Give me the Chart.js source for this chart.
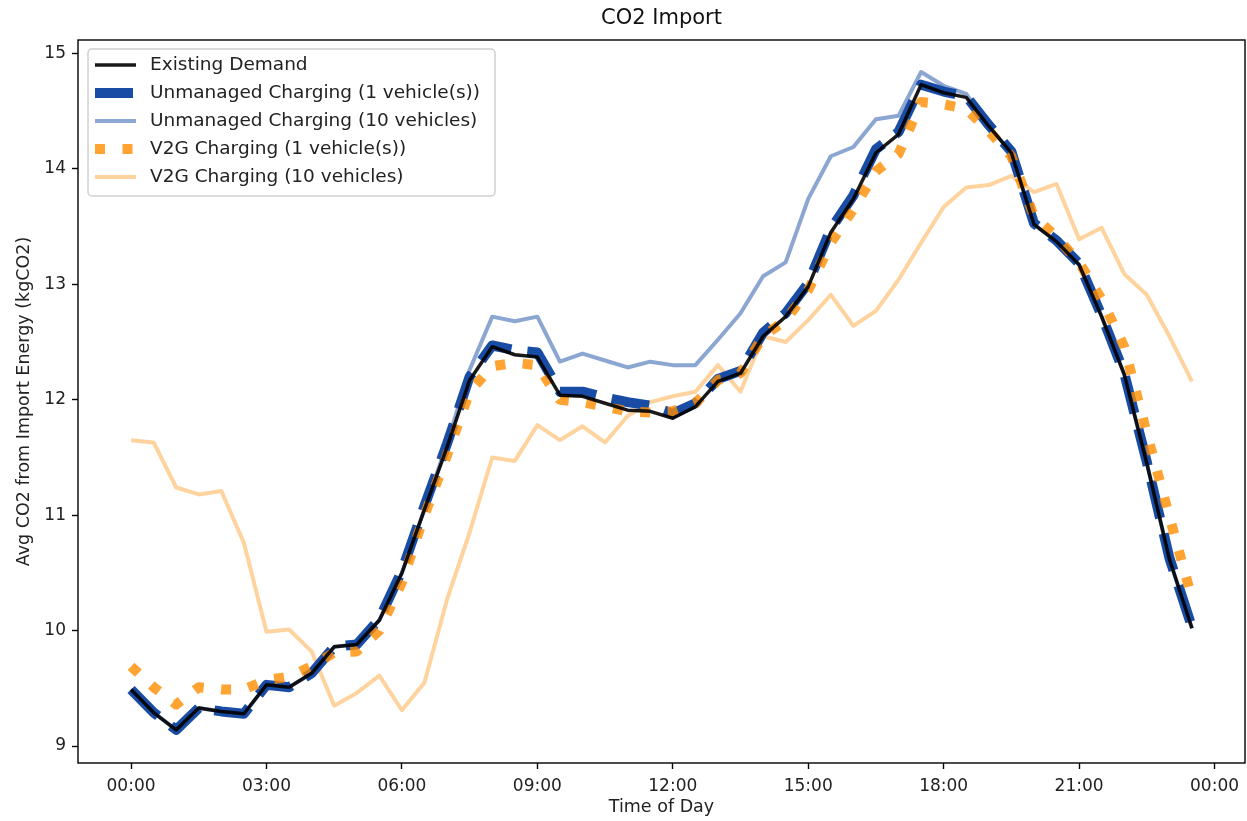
<!DOCTYPE html>
<html>
<head>
<meta charset="utf-8">
<title>CO2 Import</title>
<script src="https://cdn.jsdelivr.net/npm/chart.js@4.4.1/dist/chart.umd.min.js"></script>
<style>
  html, body { margin: 0; padding: 0; background: #fff; }
  #wrap { width: 1247px; height: 821px; }
</style>
</head>
<body>
<div id="wrap"><canvas id="chCO2" width="1247" height="821"></canvas></div>
<script>
/* CO2 Import – half-hourly averages */

const TIMES = [
  '00:00','00:30','01:00','01:30','02:00','02:30','03:00','03:30',
  '04:00','04:30','05:00','05:30','06:00','06:30','07:00','07:30',
  '08:00','08:30','09:00','09:30','10:00','10:30','11:00','11:30',
  '12:00','12:30','13:00','13:30','14:00','14:30','15:00','15:30',
  '16:00','16:30','17:00','17:30','18:00','18:30','19:00','19:30',
  '20:00','20:30','21:00','21:30','22:00','22:30','23:00','23:30'
];

const EXISTING = [
  9.49, 9.29, 9.14, 9.33, 9.30, 9.28, 9.53, 9.51,
  9.63, 9.86, 9.88, 10.09, 10.50, 11.05, 11.59, 12.17,
  12.46, 12.39, 12.37, 12.04, 12.03, 11.97, 11.91, 11.90,
  11.84, 11.94, 12.16, 12.23, 12.55, 12.72, 12.98, 13.45,
  13.74, 14.14, 14.30, 14.73, 14.66, 14.62, 14.37, 14.14,
  13.52, 13.37, 13.17, 12.72, 12.22, 11.45, 10.62, 10.02
];

const UNMANAGED_1 = [
  9.49, 9.29, 9.14, 9.33, 9.30, 9.28, 9.53, 9.51,
  9.63, 9.86, 9.88, 10.10, 10.52, 11.08, 11.62, 12.20,
  12.47, 12.43, 12.41, 12.07, 12.07, 12.02, 11.98, 11.95,
  11.88, 11.97, 12.18, 12.25, 12.58, 12.75, 13.01, 13.48,
  13.77, 14.17, 14.32, 14.73, 14.67, 14.63, 14.38, 14.15,
  13.53, 13.38, 13.18, 12.73, 12.23, 11.46, 10.63, 10.03
];

const UNMANAGED_10 = [
  9.49, 9.29, 9.14, 9.33, 9.30, 9.28, 9.53, 9.51,
  9.63, 9.86, 9.88, 10.09, 10.50, 11.05, 11.62, 12.26,
  12.72, 12.68, 12.72, 12.33, 12.40, 12.34, 12.28, 12.33,
  12.30, 12.30, 12.52, 12.75, 13.07, 13.19, 13.74, 14.11,
  14.19, 14.43, 14.46, 14.84, 14.72, 14.65, 14.37, 14.14,
  13.52, 13.37, 13.17, 12.72, 12.22, 11.45, 10.62, 10.02
];

const V2G_1 = [
  9.69, 9.51, 9.36, 9.51, 9.49, 9.49, 9.57, 9.60,
  9.69, 9.81, 9.82, 10.00, 10.42, 11.00, 11.52, 12.07,
  12.29, 12.32, 12.30, 12.00, 11.98, 11.94, 11.90, 11.89,
  11.90, 11.97, 12.17, 12.23, 12.55, 12.69, 12.95, 13.36,
  13.65, 13.98, 14.13, 14.58, 14.56, 14.52, 14.33, 14.11,
  13.59, 13.41, 13.19, 12.87, 12.46, 11.71, 10.99, 10.28
];

const V2G_10 = [
  11.65, 11.63, 11.24, 11.18, 11.21, 10.76, 9.99, 10.01,
  9.82, 9.35, 9.46, 9.61, 9.31, 9.55, 10.27, 10.85,
  11.50, 11.47, 11.78, 11.65, 11.77, 11.63, 11.86, 11.98,
  12.03, 12.07, 12.30, 12.07, 12.55, 12.50, 12.69, 12.91,
  12.64, 12.77, 13.04, 13.36, 13.67, 13.84, 13.86, 13.94,
  13.80, 13.87, 13.39, 13.49, 13.09, 12.91, 12.55, 12.16
];

const SERIES_LABELS = [
  'Existing Demand',
  'Unmanaged Charging (1 vehicle(s))',
  'Unmanaged Charging (10 vehicles)',
  'V2G Charging (1 vehicle(s))',
  'V2G Charging (10 vehicles)'
];

const TICK_HOURS  = [0, 3, 6, 9, 12, 15, 18, 21, 24];
const TICK_LABELS = ['00:00', '03:00', '06:00', '09:00', '12:00', '15:00', '18:00', '21:00', '00:00'];
const Y_TICKS     = [9, 10, 11, 12, 13, 14, 15];

const FONT = '"DejaVu Sans", Verdana, sans-serif';

function toHours(t) {
  const p = t.split(':');
  return parseInt(p[0], 10) + parseInt(p[1], 10) / 60;
}

function pts(values) {
  return TIMES.map((t, i) => ({ x: toHours(t), y: values[i] }));
}

/* Frame on all four sides, like matplotlib spines */
const spines = {
  id: 'spines',
  afterDatasetsDraw(chart) {
    const a = chart.chartArea, ctx = chart.ctx;
    ctx.save();
    ctx.strokeStyle = '#000';
    ctx.lineWidth = 1.4;
    ctx.strokeRect(a.left, a.top, a.right - a.left, a.bottom - a.top);
    ctx.restore();
  }
};

/* Title drawn by hand so the plot area keeps its fixed top */
const plotTitle = {
  id: 'plotTitle',
  afterDraw(chart) {
    const a = chart.chartArea, ctx = chart.ctx;
    ctx.save();
    ctx.fillStyle = '#111';
    ctx.font = '21px ' + FONT;
    ctx.textAlign = 'center';
    ctx.textBaseline = 'middle';
    ctx.fillText('CO2 Import', (a.left + a.right) / 2, 19);
    ctx.restore();
  }
};

/* Legend inside the axes, upper left */
const innerLegend = {
  id: 'innerLegend',
  afterDraw(chart) {
    const ctx = chart.ctx;
    ctx.save();
    ctx.fillStyle = 'rgba(255,255,255,0.8)';
    ctx.strokeStyle = '#cfcfcf';
    ctx.lineWidth = 1.5;
    ctx.beginPath();
    ctx.roundRect(88, 49, 407, 147, 4);
    ctx.fill();
    ctx.stroke();
    ctx.font = '18.5px ' + FONT;
    ctx.textBaseline = 'middle';
    chart.data.datasets.forEach((ds, i) => {
      const y = 65 + i * 28;
      ctx.strokeStyle = ds.borderColor;
      ctx.lineWidth = ds.borderWidth;
      ctx.setLineDash(ds.borderDash || []);
      ctx.lineCap = 'butt';
      ctx.beginPath();
      ctx.moveTo(95, y);
      ctx.lineTo(136, y);
      ctx.stroke();
      ctx.setLineDash([]);
      ctx.fillStyle = '#222';
      ctx.fillText(ds.label, 150, y);
    });
    ctx.restore();
  }
};

const tickFont  = { family: FONT, size: 17 };
const titleFont = { family: FONT, size: 17.5 };

new Chart(document.getElementById('chCO2'), {
  type: 'line',
  data: {
    datasets: [
      { label: SERIES_LABELS[0], data: pts(EXISTING),     borderColor: 'rgba(0,0,0,0.9)',        borderWidth: 3.5, order: 0 },
      { label: SERIES_LABELS[1], data: pts(UNMANAGED_1),  borderColor: 'rgb(25,77,165)',         borderWidth: 10, borderDash: [38, 16], order: 3 },
      { label: SERIES_LABELS[2], data: pts(UNMANAGED_10), borderColor: 'rgba(25,77,165,0.5)',    borderWidth: 4, order: 2 },
      { label: SERIES_LABELS[3], data: pts(V2G_1),        borderColor: 'rgba(255,140,0,0.8)',    borderWidth: 10, borderDash: [10, 17.5], order: 1 },
      { label: SERIES_LABELS[4], data: pts(V2G_10),       borderColor: 'rgba(255,140,0,0.38)',   borderWidth: 4, order: 4 }
    ]
  },
  options: {
    responsive: false,
    animation: false,
    devicePixelRatio: 1,
    layout: { padding: { top: 40, right: 2, left: 0, bottom: 0 } },
    elements: {
      point: { radius: 0, hoverRadius: 0 },
      line: { tension: 0, fill: false, borderCapStyle: 'butt', borderJoinStyle: 'round' }
    },
    plugins: {
      legend: { display: false },
      tooltip: { enabled: false },
      title: { display: false }
    },
    scales: {
      x: {
        type: 'linear',
        min: -1.175,
        max: 24.675,
        afterBuildTicks: s => { s.ticks = TICK_HOURS.map(v => ({ value: v })); },
        afterFit: s => { s.height = 58; },
        ticks: {
          autoSkip: false,
          maxRotation: 0,
          padding: 7,
          color: '#222',
          font: tickFont,
          callback: (v, i) => TICK_LABELS[i]
        },
        grid: { drawOnChartArea: false, drawTicks: true, tickLength: 6, tickWidth: 1.4, tickColor: '#000' },
        border: { display: false },
        title: { display: true, text: 'Time of Day', color: '#222', font: titleFont, padding: { top: 0, bottom: 3 } }
      },
      y: {
        type: 'linear',
        min: 8.853,
        max: 15.117,
        afterBuildTicks: s => { s.ticks = Y_TICKS.map(v => ({ value: v })); },
        afterFit: s => { s.width = 78; },
        ticks: { padding: 6, color: '#222', font: tickFont, callback: v => String(v) },
        grid: { drawOnChartArea: false, drawTicks: true, tickLength: 6, tickWidth: 1.4, tickColor: '#000' },
        border: { display: false },
        title: { display: true, text: 'Avg CO2 from Import Energy (kgCO2)', color: '#222', font: titleFont, padding: { top: 14, bottom: 0 } }
      }
    }
  },
  plugins: [spines, plotTitle, innerLegend]
});
</script>
</body>
</html>
